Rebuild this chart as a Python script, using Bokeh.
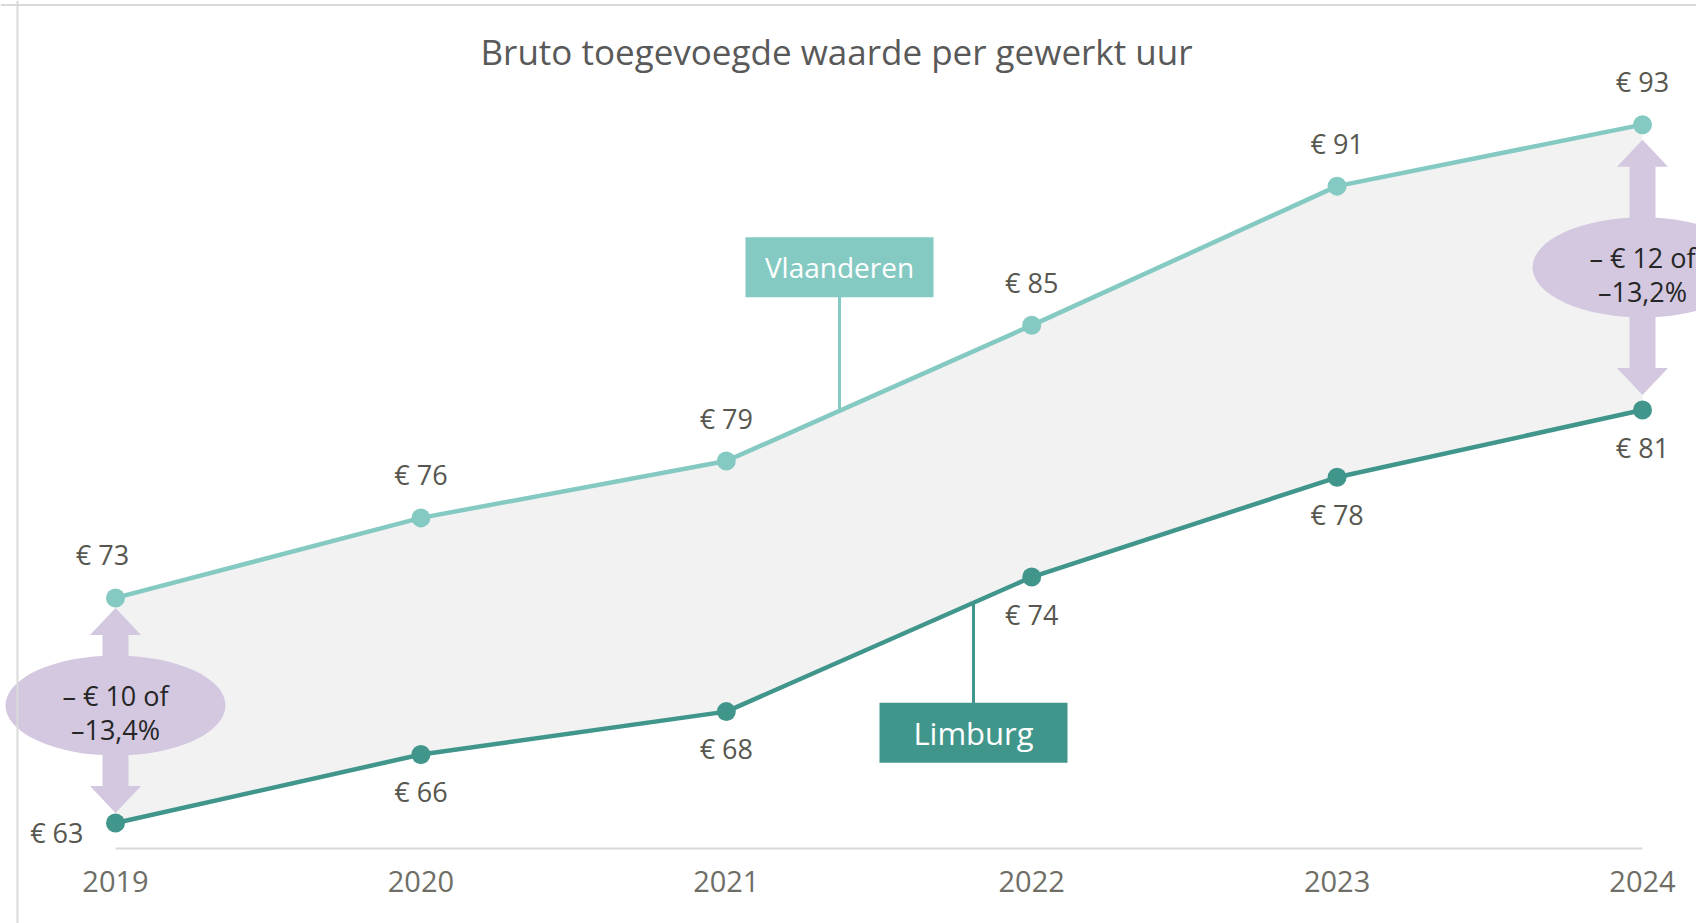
import numpy as np
from bokeh.plotting import figure
from bokeh.models import Range1d, Span, Label, FixedTicker
from bokeh.core.properties import value
from bokeh.embed import file_html
from bokeh.resources import INLINE

# ---------------- data ----------------
years = [2019, 2020, 2021, 2022, 2023, 2024]
vlaanderen = [72.8, 76.25, 78.7, 84.55, 90.55, 93.2]
limburg = [63.1, 66.05, 67.9, 73.7, 78.0, 80.9]
series_names = ["Vlaanderen", "Limburg"]
gap_text_first = ["– € 10 of", "–13,4%"]
gap_text_last = ["– € 12 of", "–13,2%"]
title_text = "Bruto toegevoegde waarde per gewerkt uur"

# ---------------- styling / layout ----------------
FONT = "Open Sans"
C_V = "#85cac2"
C_L = "#41968c"
C_FILL = "#f2f2f2"
C_GAP = "#d3c8e0"
C_TXT = "#57574f"
C_AX = "#6e6e66"
C_BORDER = "#dadada"

W, H = 1696, 923
PX_X = 305.4      # pixels per year
PX_Y = 23.2       # pixels per euro
BASE = 62.0       # value of the baseline
X0 = 2019 - 115 / PX_X
X1 = X0 + W / PX_X
Y0 = BASE - (H - 848) / PX_Y
Y1 = Y0 + H / PX_Y

p = figure(width=W, height=H, output_backend="svg", toolbar_location=None,
           x_range=Range1d(X0, X1), y_range=Range1d(Y0, Y1),
           y_axis_location=None, min_border=0,
           min_border_left=0, min_border_right=0, min_border_top=0, min_border_bottom=0)
p.outline_line_color = None
p.grid.visible = False
p.background_fill_color = "white"
p.border_fill_color = "white"

# x axis drawn at the baseline value, only between first and last year
ax = p.xaxis[0]
ax.fixed_location = BASE
ax.bounds = (years[0], years[-1])
ax.ticker = FixedTicker(ticks=years)
ax.axis_line_color = C_BORDER
ax.axis_line_width = 2
ax.major_tick_line_color = None
ax.minor_tick_line_color = None
ax.major_label_standoff = 16
ax.major_label_text_font = FONT
ax.major_label_text_font_size = "29px"
ax.major_label_text_color = C_AX

# outer frame lines (left and top)
p.add_layout(Span(location=X0 + 17 / PX_X, dimension="height", line_color=C_BORDER, line_width=2))
p.add_layout(Span(location=Y1 - 4.5 / PX_Y, dimension="width", line_color=C_BORDER, line_width=2))

# area between the two series
p.varea(x=years, y1=limburg, y2=vlaanderen, fill_color=C_FILL)

# gap arrows + ellipses at first and last year
def gap_arrow(xc, top, bot, tip_off):
    hw, sw, hh = 25.5 / PX_X, 13 / PX_X, 27 / PX_Y
    t = top - tip_off / PX_Y
    b = bot + tip_off / PX_Y
    xs = [xc, xc + hw, xc + sw, xc + sw, xc + hw, xc, xc - hw, xc - sw, xc - sw, xc - hw]
    ys = [t, t - hh, t - hh, b + hh, b + hh, b, b + hh, b + hh, t - hh, t - hh]
    return xs, ys

arrows = [gap_arrow(years[0], vlaanderen[0], limburg[0], 10),
          gap_arrow(years[-1], vlaanderen[-1], limburg[-1], 15)]
p.patches(xs=[a[0] for a in arrows], ys=[a[1] for a in arrows],
          fill_color=C_GAP, line_color=None)

mid_first = (vlaanderen[0] + limburg[0]) / 2 + 5 / PX_Y
mid_last = (vlaanderen[-1] + limburg[-1]) / 2
p.ellipse(x=[years[0], years[-1]], y=[mid_first, mid_last], width=220, height=100,
          width_units="screen", height_units="screen", fill_color=C_GAP, line_color=None)
for xc, yc, lines in [(years[0], mid_first, gap_text_first), (years[-1], mid_last, gap_text_last)]:
    p.text(x=[xc, xc], y=[yc, yc], text=lines, y_offset=[-10, 24],
           text_align="center", text_baseline="middle",
           text_font=value(FONT), text_font_size="27px", text_color="#262626")

# series lines and markers
p.line(years, vlaanderen, line_color=C_V, line_width=4.5)
p.line(years, limburg, line_color=C_L, line_width=4.5)
p.scatter(years, vlaanderen, size=19, fill_color=C_V, line_color=None)
p.scatter(years, limburg, size=19, fill_color=C_L, line_color=None)

# value labels
v_lab = [f"€ {round(v)}" for v in vlaanderen]
l_lab = [f"€ {round(v)}" for v in limburg]
p.text(x=years, y=vlaanderen, text=v_lab, x_offset=[-13, 0, 0, 0, 0, 0], y_offset=-43,
       text_align="center", text_baseline="middle",
       text_font=value(FONT), text_font_size="27px", text_color=C_TXT)
p.text(x=years[1:], y=limburg[1:], text=l_lab[1:], y_offset=37,
       text_align="center", text_baseline="middle",
       text_font=value(FONT), text_font_size="27px", text_color=C_TXT)
p.text(x=years[:1], y=limburg[:1], text=l_lab[:1], x_offset=-32, y_offset=10,
       text_align="right", text_baseline="middle",
       text_font=value(FONT), text_font_size="27px", text_color=C_TXT)

# series callouts
xv = 2019 + (839 - 115) / PX_X
xl = 2019 + (973 - 115) / PX_X
yv_line = float(np.interp(xv, years, vlaanderen))
yl_line = float(np.interp(xl, years, limburg))
yv_box = yv_line + 143.5 / PX_Y
yl_box = yl_line - 130 / PX_Y
p.segment(x0=[xv], y0=[yv_line], x1=[xv], y1=[yv_box], line_color=C_V, line_width=3)
p.segment(x0=[xl], y0=[yl_line], x1=[xl], y1=[yl_box], line_color=C_L, line_width=3)
p.rect(x=[xv, xl], y=[yv_box, yl_box], width=188, height=60,
       width_units="screen", height_units="screen",
       fill_color=[C_V, C_L], line_color=None)
p.text(x=[xv, xl], y=[yv_box, yl_box], text=series_names,
       text_align="center", text_baseline="middle",
       text_font=value(FONT), text_font_size=["28px", "31px"], text_color="white")

# title
p.add_layout(Label(x=836, y=H - 51, x_units="screen", y_units="screen", text=title_text,
                   text_align="center", text_baseline="middle",
                   text_font=FONT, text_font_size="35px", text_color="#595959"))

open("out.html", "w").write(file_html(p, INLINE))
